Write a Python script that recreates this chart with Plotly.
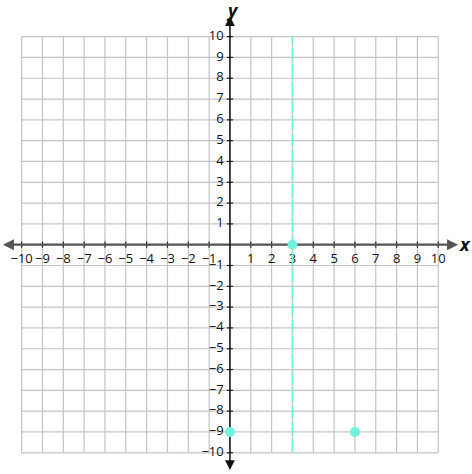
import plotly.graph_objects as go

# grid / tick values
ticks = list(range(-10, 11))
tick_labels = [str(t).replace("-", "\u2212") for t in ticks]

# plotted points
point_x = [3, 0, 6]
point_y = [0, -9, -9]

# dashed vertical line x = 3
line_x = 3

teal = "#72f2dc"
grid_color = "#c4c4c4"

fig = go.Figure()

# grid lines
for t in ticks:
    fig.add_shape(type="line", x0=t, x1=t, y0=-10, y1=10,
                  line=dict(color=grid_color, width=1.2), layer="below")
    fig.add_shape(type="line", x0=-10, x1=10, y0=t, y1=t,
                  line=dict(color=grid_color, width=1.2), layer="below")

# tick marks
for t in ticks:
    if t == 0:
        continue
    fig.add_shape(type="line", x0=t, x1=t, y0=-0.15, y1=0.15,
                  line=dict(color="#222222", width=1.2), layer="below")
    fig.add_shape(type="line", x0=-0.15, x1=0.15, y0=t, y1=t,
                  line=dict(color="#222222", width=1.2), layer="below")

# axis lines
fig.add_trace(go.Scatter(x=[-10.7, 10.75], y=[0, 0], mode="lines",
                         line=dict(color="#555555", width=2.2),
                         hoverinfo="skip", showlegend=False))
fig.add_trace(go.Scatter(x=[0, 0], y=[-10.6, 10.8], mode="lines",
                         line=dict(color="#111111", width=1.5),
                         hoverinfo="skip", showlegend=False))

# arrow heads
for end, tail in ((-10.9, -10.4), (10.95, 10.45)):
    fig.add_annotation(x=end, y=0, ax=tail, ay=0, xref="x", yref="y",
                       axref="x", ayref="y", text="", showarrow=True,
                       arrowhead=2, arrowsize=1.1, arrowwidth=2, arrowcolor="#555555")
for end, tail in ((10.98, 10.48), (-10.83, -10.33)):
    fig.add_annotation(x=0, y=end, ax=0, ay=tail, xref="x", yref="y",
                       axref="x", ayref="y", text="", showarrow=True,
                       arrowhead=2, arrowsize=1.3, arrowwidth=1.5, arrowcolor="#111111")

# tick labels
lab_x = [t for t in ticks if t != 0]
lab_txt = [l for t, l in zip(ticks, tick_labels) if t != 0]
fig.add_trace(go.Scatter(
    x=lab_x, y=[-0.72] * len(lab_x), mode="text", text=lab_txt,
    textfont=dict(family="Open Sans", size=13, color="#111111"),
    hoverinfo="skip", showlegend=False, cliponaxis=False))
fig.add_trace(go.Scatter(
    x=[-0.3] * len(lab_x), y=lab_x, mode="text", text=lab_txt,
    textposition="middle left",
    textfont=dict(family="Open Sans", size=13, color="#111111"),
    hoverinfo="skip", showlegend=False, cliponaxis=False))

# axis names
fig.add_annotation(x=11.3, y=0.05, xref="x", yref="y", text="<b><i>x</i></b>",
                   showarrow=False, font=dict(family="Open Sans", size=18, color="#111111"))
fig.add_annotation(x=0.1, y=11.28, xref="x", yref="y", text="<b><i>y</i></b>",
                   showarrow=False, font=dict(family="Open Sans", size=18, color="#111111"))

# dashed line
fig.add_trace(go.Scatter(
    x=[line_x, line_x], y=[-10, 10], mode="lines",
    line=dict(color=teal, width=1.8, dash="14px,3px"),
    hoverinfo="skip", showlegend=False))

# points
fig.add_trace(go.Scatter(
    x=point_x, y=point_y, mode="markers",
    marker=dict(color=teal, size=10), cliponaxis=False, showlegend=False))

fig.update_xaxes(range=[-11.04, 11.62], visible=False, showgrid=False, zeroline=False)
fig.update_yaxes(range=[-11.02, 11.76], visible=False, showgrid=False, zeroline=False)
fig.update_layout(width=472, height=474, margin=dict(l=0, r=0, t=0, b=0),
                  plot_bgcolor="white", paper_bgcolor="white", showlegend=False)

fig.write_html("out.html", config={"displayModeBar": False},
               post_script="document.body.style.margin='0';")
